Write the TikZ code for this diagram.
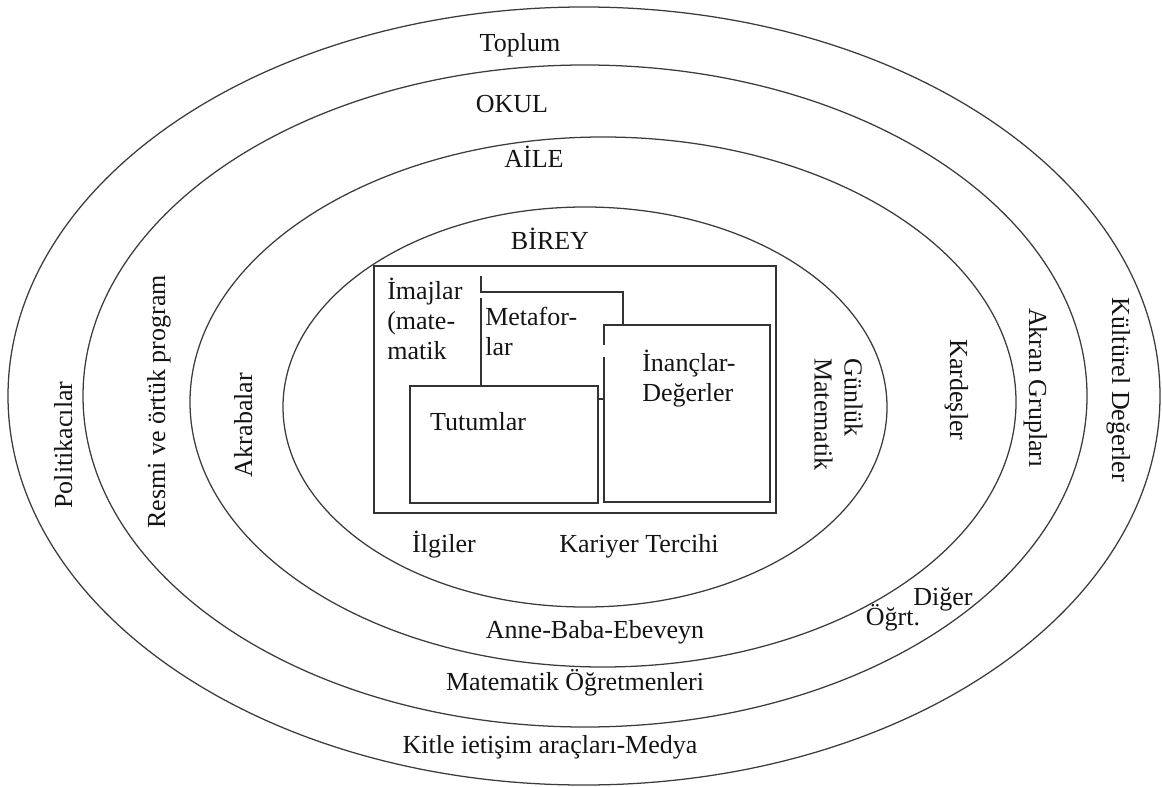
\documentclass[tikz,border=0pt]{standalone}
\usepackage{fontspec}
\setmainfont{Liberation Serif}
\usepackage{xcolor}
\usepackage{tikz}
\usetikzlibrary{positioning,calc}
\definecolor{ringline}{HTML}{3C3C3C}
\definecolor{boxline}{HTML}{333333}
\definecolor{ink}{HTML}{141414}

\begin{document}
\begin{tikzpicture}[
  x=0.025cm, y=-0.025cm,
  font=\fontsize{18.5}{21.3}\selectfont,
  ring/.style={draw=ringline,line width=0.9pt},
  frame/.style={draw=boxline,line width=1pt},
  lbl/.style={inner sep=0pt,text=ink,anchor=base},
  vup/.style={lbl,rotate=90},
  vdown/.style={lbl,rotate=-90},
  para/.style={inner sep=0pt,text=ink,align=left,anchor=north west}
]
\useasboundingbox (0,0) rectangle (1162,787);

% --- rings, outer to inner
\draw[ring] (584,396) ellipse [x radius=576, y radius=389];
\draw[ring] (585,396) ellipse [x radius=502, y radius=331];
\draw[ring] (603,402) ellipse [x radius=413, y radius=265];
\draw[ring] (585,407) ellipse [x radius=302, y radius=200];

% --- individual
\draw[frame] (374,266) rectangle (776,513);
\draw[frame] (481,276) -- (481,292) -- (623,292) -- (623,325);
\draw[frame] (481,298) -- (481,386);
\draw[frame] (410,386) rectangle (598,503);
\draw[frame] (604,345) |- (770,325) |- (604,502) -- (604,357);
\draw[frame] (598,399) -- (604,399);

% --- ring titles
\node[lbl] (toplum) at (520,52)  {Toplum};
\node[lbl] (okul)   at (512,113) {OKUL};
\node[lbl] (aile)   at (534,168) {AİLE};
\node[lbl] (birey)  at (550,250) {BİREY};

% --- inside the box
\node[para] (imaj)  at (387,278) {İmajlar\\(mate-\\matik};
\node[para] (meta)  at (485,307) {Metafor-\\lar};
\node[lbl]  (tutum) at (478,430) {Tutumlar};
\node[para] (inanc) at (642,350) {İnançlar-\\Değerler};

% --- bottom
\node[lbl] (ilgi)     at (444,552) {İlgiler};
\node[lbl] (kariyer)  at (639,552) {Kariyer Tercihi};
\node[lbl] (ebeveyn)  at (595,638) {Anne-Baba-Ebeveyn};
\node[lbl] (ogretmen) at (575,690) {Matematik Öğretmenleri};
\node[lbl] (medya)    at (550,753) {Kitle ietişim araçları-Medya};
\node[lbl] (diger)    at (943,605) {Diğer};
\node[lbl] (ogrt)     at (893,625) {Öğrt.};

% --- right side
\node[inner sep=0pt,text=ink,rotate=-90,align=left,anchor=north west]
  (gunluk) at (863,358) {Günlük\\Matematik};
\node[vdown] (kardes) at (950,390)  {Kardeşler};
\node[vdown] (akran)  at (1029,388) {Akran Grupları};
\node[vdown] (kultur) at (1112,390) {Kültürel Değerler};

% --- left side
\node[vup] (politik) at (72,445)  {Politikacılar};
\node[vup] (resmi)   at (165,402) {Resmi ve örtük program};
\node[vup] (akraba)  at (252,425) {Akrabalar};
\end{tikzpicture}
\end{document}
